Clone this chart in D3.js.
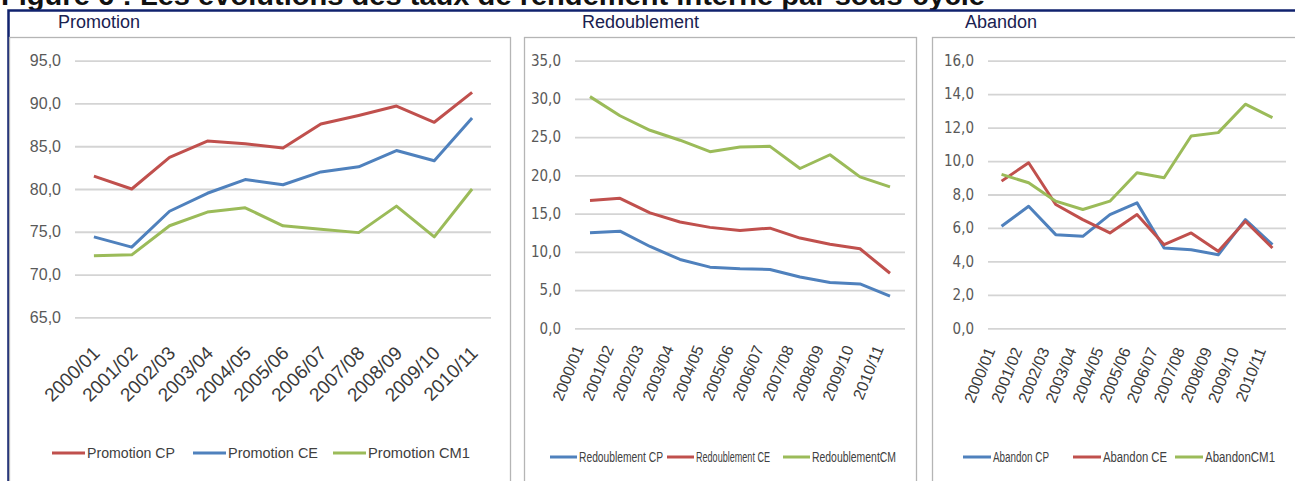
<!DOCTYPE html>
<html>
<head>
<meta charset="utf-8">
<title>Figure 6</title>
<style>
  body { margin: 0; background: #fff; }
  svg { display: block; }
</style>
<script src="https://d3js.org/d3.v7.min.js"></script>
</head>
<body>
<div id="chart"></div>
<script>
// data
var years = ["2000/01","2001/02","2002/03","2003/04","2004/05","2005/06","2006/07","2007/08","2008/09","2009/10","2010/11"];

var promotionCP  = [81.5, 80.0, 83.7, 85.6, 85.3, 84.8, 87.6, 88.6, 89.7, 87.8, 91.3];
var promotionCE  = [74.4, 73.2, 77.4, 79.5, 81.1, 80.5, 82.0, 82.6, 84.5, 83.3, 88.3];
var promotionCM1 = [72.2, 72.3, 75.7, 77.3, 77.8, 75.7, 75.3, 74.9, 78.0, 74.4, 80.0];

var redoublementCP = [12.5, 12.7, 10.7, 9.0, 8.0, 7.8, 7.7, 6.7, 6.0, 5.8, 4.2];
var redoublementCE = [16.7, 17.0, 15.1, 13.9, 13.2, 12.8, 13.1, 11.8, 11.0, 10.4, 7.2];
var redoublementCM = [30.3, 27.8, 25.9, 24.6, 23.1, 23.7, 23.8, 20.9, 22.7, 19.8, 18.5];

var abandonCP  = [6.1, 7.3, 5.6, 5.5, 6.8, 7.5, 4.8, 4.7, 4.4, 6.5, 5.0];
var abandonCE  = [8.8, 9.9, 7.4, 6.5, 5.7, 6.8, 5.0, 5.7, 4.6, 6.4, 4.8];
var abandonCM1 = [9.2, 8.7, 7.6, 7.1, 7.6, 9.3, 9.0, 11.5, 11.7, 13.4, 12.6];

var promotionTicks    = [65, 70, 75, 80, 85, 90, 95];
var redoublementTicks = [0, 5, 10, 15, 20, 25, 30, 35];
var abandonTicks      = [0, 2, 4, 6, 8, 10, 12, 14, 16];

var RED = "#c0504d", BLUE = "#4f81bd", GREEN = "#9bbb59";

var panels = [
  {
    title: "Promotion", titleX: 58,
    box: [9, 37, 510, 490],
    xr: [75, 491], yr: [317.3, 60.7], ticks: promotionTicks,
    series: [
      {name: "Promotion CP", values: promotionCP, color: RED},
      {name: "Promotion CE", values: promotionCE, color: BLUE},
      {name: "Promotion CM1", values: promotionCM1, color: GREEN}
    ],
    tickFont: "16px 'Liberation Sans', Arial, sans-serif",
    xFont: "19px 'Liberation Sans', Arial, sans-serif",
    angle: -45, lab: [7, 37],
    legY: 453, legX: [52, 193, 333], legLen: 33, legW: [88, 90, 102],
    legFont: "15px 'Liberation Sans', Arial, sans-serif"
  },
  {
    title: "Redoublement", titleX: 582,
    box: [524, 37, 916, 490],
    xr: [575, 905], yr: [328.3, 60.7], ticks: redoublementTicks,
    series: [
      {name: "Redoublement CP", values: redoublementCP, color: BLUE},
      {name: "Redoublement CE", values: redoublementCE, color: RED},
      {name: "RedoublementCM", values: redoublementCM, color: GREEN}
    ],
    tickFont: "15px 'DejaVu Sans Condensed', 'Liberation Sans', sans-serif",
    xFont: "16px 'Liberation Sans', Arial, sans-serif",
    angle: -68, lab: [-6, 20],
    legY: 457, legX: [550, 667, 783], legLen: 27, legW: [84, 74, 84],
    legFont: "14px 'Liberation Sans', Arial, sans-serif"
  },
  {
    title: "Abandon", titleX: 965,
    box: [932, 37, 1300, 490],
    xr: [988, 1286], yr: [328.3, 60.7], ticks: abandonTicks,
    series: [
      {name: "Abandon CP", values: abandonCP, color: BLUE},
      {name: "Abandon CE", values: abandonCE, color: RED},
      {name: "AbandonCM1", values: abandonCM1, color: GREEN}
    ],
    tickFont: "15px 'DejaVu Sans Condensed', 'Liberation Sans', sans-serif",
    xFont: "16px 'Liberation Sans', Arial, sans-serif",
    angle: -68, lab: [-6, 22],
    legY: 457, legX: [963, 1073, 1175], legLen: 28, legW: [56, 64, 70],
    legFont: "14px 'Liberation Sans', Arial, sans-serif"
  }
];

var W = 1295, H = 481;
var svg = d3.select("#chart").append("svg")
  .attr("width", W)
  .attr("height", H);

// figure title, cut off at the top like the scan
svg.append("text")
  .attr("x", 1)
  .attr("y", 5)
  .attr("textLength", 984)
  .attr("lengthAdjust", "spacingAndGlyphs")
  .style("font", "bold 27px 'Liberation Sans', Arial, sans-serif")
  .style("fill", "#111")
  .text("Figure 6 : Les évolutions des taux de rendement interne par sous-cycle");

// navy frame
svg.append("path")
  .attr("d", "M8.5," + H + "V10.5H" + W)
  .attr("fill", "none")
  .attr("stroke", "#10226e")
  .attr("stroke-width", 2.5);

var fmt = function(v) { return d3.format(".1f")(v).replace(".", ","); };

panels.forEach(function(p) {
  var g = svg.append("g");

  g.append("rect")
    .attr("x", p.box[0] + 0.5)
    .attr("y", p.box[1] + 0.5)
    .attr("width", p.box[2] - p.box[0])
    .attr("height", p.box[3] - p.box[1])
    .attr("fill", "#fff")
    .attr("stroke", "#b5b5b5")
    .attr("stroke-width", 1.3);

  g.append("text")
    .attr("x", p.titleX)
    .attr("y", 28)
    .style("font", "18px 'Liberation Sans', Arial, sans-serif")
    .style("fill", "#1a2150")
    .text(p.title);

  var x = d3.scaleBand().domain(years).range(p.xr);
  var y = d3.scaleLinear()
    .domain([p.ticks[0], p.ticks[p.ticks.length - 1]])
    .range(p.yr);

  var yAxis = d3.axisLeft(y)
    .tickValues(p.ticks)
    .tickFormat(fmt)
    .tickSize(-(p.xr[1] - p.xr[0]))
    .tickPadding(14);

  var ya = g.append("g")
    .attr("transform", "translate(" + p.xr[0] + ",0)")
    .call(yAxis);
  ya.select(".domain").remove();
  ya.selectAll("line").attr("stroke", "#d4d4d4").attr("stroke-width", 1.8);
  ya.selectAll("text").style("font", p.tickFont).style("fill", "#595959");

  // rotated category labels
  var axisY = p.yr[0];
  g.append("g").selectAll("text")
    .data(years).enter()
    .append("text")
    .attr("transform", function(d) {
      var cx = x(d) + x.bandwidth() / 2 + p.lab[0];
      return "translate(" + cx + "," + (axisY + p.lab[1]) + ") rotate(" + p.angle + ")";
    })
    .attr("text-anchor", "end")
    .style("font", p.xFont)
    .style("fill", "#3a3a3a")
    .text(function(d) { return d; });

  var line = d3.line()
    .x(function(d, i) { return x(years[i]) + x.bandwidth() / 2; })
    .y(function(d) { return y(d); });

  g.append("g").selectAll("path")
    .data(p.series).enter()
    .append("path")
    .attr("d", function(s) { return line(s.values); })
    .attr("fill", "none")
    .attr("stroke", function(s) { return s.color; })
    .attr("stroke-width", 3)
    .attr("stroke-linejoin", "round");

  // legend
  var leg = g.append("g").selectAll("g")
    .data(p.series).enter()
    .append("g")
    .attr("transform", function(s, i) { return "translate(" + p.legX[i] + "," + p.legY + ")"; });
  leg.append("line")
    .attr("x1", 0).attr("x2", p.legLen)
    .attr("stroke", function(s) { return s.color; })
    .attr("stroke-width", 3);
  leg.append("text")
    .attr("x", p.legLen + 2)
    .attr("dy", "0.35em")
    .attr("textLength", function(s, i) { return p.legW[i]; })
    .attr("lengthAdjust", "spacingAndGlyphs")
    .style("font", p.legFont)
    .style("fill", "#404040")
    .text(function(s) { return s.name; });
});
</script>
</body>
</html>
